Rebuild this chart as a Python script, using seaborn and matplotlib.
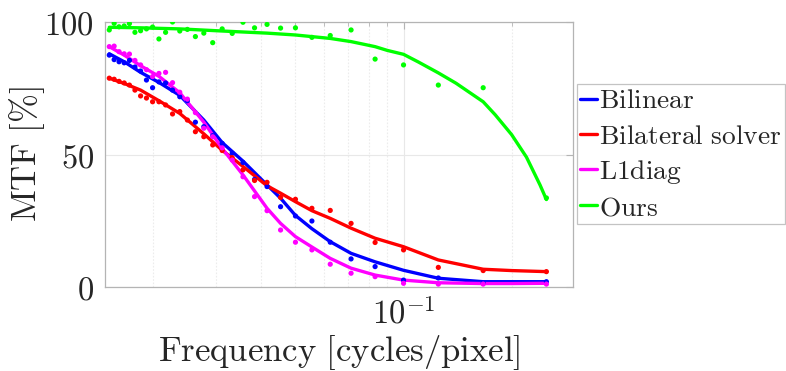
import matplotlib
matplotlib.use("Agg")
import matplotlib.pyplot as plt
import matplotlib.ticker as mticker
import numpy as np
import pandas as pd
import seaborn as sns

# Sampled spatial frequencies [cycles/pixel]
freq = [0.01515, 0.01563, 0.01613, 0.01667, 0.01724, 0.01786, 0.01852, 0.01923,
        0.02, 0.02083, 0.02174, 0.02273, 0.02381, 0.025, 0.02632, 0.02778,
        0.02941, 0.03125, 0.03333, 0.03571, 0.03846, 0.04167, 0.04545, 0.05,
        0.05556, 0.0625, 0.07143, 0.08333, 0.1, 0.125, 0.16667, 0.25]

# Measured MTF [%]
mtf_bilinear = [87.5, 85.8, 85.0, 84.6, 85.5, 83.0, 81.5, 78.1, 75.2, 77.4, 77.0, 74.3,
                71.8, 70.3, 62.2, 60.5, 57.1, 54.2, 50.5, 47.0, 40.6, 37.9, 30.3, 26.8,
                24.9, 16.9, 10.6, 7.7, 2.6, 3.4, 1.5, 2.0]
mtf_bilateral = [78.8, 78.4, 77.6, 77.0, 76.2, 74.3, 72.1, 71.3, 69.9, 69.9, 68.7, 65.3,
                 66.2, 63.0, 58.6, 56.7, 53.6, 51.5, 48.8, 44.2, 40.2, 39.5, 33.8, 33.1,
                 29.7, 28.9, 24.0, 16.8, 14.0, 7.4, 6.2, 5.8]
mtf_l1diag = [90.7, 90.9, 88.8, 88.0, 87.9, 85.5, 83.8, 82.0, 79.4, 80.6, 81.0, 77.1,
              73.5, 70.9, 65.8, 59.9, 56.7, 52.5, 47.9, 41.6, 34.1, 28.8, 21.5, 16.9,
              14.0, 8.6, 5.2, 3.9, 1.4, 1.1, 1.1, 1.1]
mtf_ours = [97.0, 99.5, 98.2, 98.5, 99.4, 96.1, 96.7, 97.4, 98.1, 93.6, 96.1, 100.0,
            96.6, 97.2, 94.5, 95.8, 92.2, 97.4, 95.7, 99.9, 97.8, 99.1, 97.7, 97.8,
            94.2, 94.9, 97.0, 86.0, 83.8, 76.2, 75.2, 33.6]

# Fitted MTF curves
fit_freq = [0.01515, 0.01667, 0.01852, 0.02083, 0.02381, 0.02778, 0.03125, 0.03571,
            0.04167, 0.04545, 0.05, 0.05556, 0.0625, 0.07143, 0.08333, 0.1, 0.125,
            0.16667, 0.2, 0.25]
fit_bilinear = [88.0, 85.0, 81.0, 77.2, 72.3, 63.0, 54.5, 47.5, 38.5, 33.5, 27.0, 22.0,
                17.1, 12.7, 9.5, 6.3, 3.3, 2.0, 2.0, 2.0]
fit_bilateral = [78.8, 76.8, 74.3, 70.3, 65.5, 57.8, 51.6, 45.5, 38.2, 35.4, 32.2, 28.8,
                 25.9, 22.2, 18.4, 15.2, 10.2, 6.7, 6.2, 5.8]
fit_l1diag = [90.7, 87.5, 83.5, 79.5, 73.3, 62.2, 52.3, 42.3, 29.7, 24.0, 19.0, 15.1,
              10.8, 7.1, 4.5, 2.6, 1.6, 1.3, 1.3, 1.4]

# The "Ours" fit is sampled more finely where it bends
fit_freq_ours = [0.01515, 0.01852, 0.02381, 0.03125, 0.04167, 0.05, 0.0625, 0.07143,
                 0.08333, 0.09, 0.1, 0.11, 0.125, 0.14, 0.16667, 0.18, 0.2, 0.22,
                 0.24, 0.25]
fit_ours = [98.0, 97.8, 97.4, 96.6, 95.8, 95.1, 93.8, 92.6, 90.7, 89.3, 87.8, 84.9,
            80.8, 76.9, 69.9, 65.0, 57.5, 49.0, 38.5, 33.0]

methods = ["Bilinear", "Bilateral solver", "L1diag", "Ours"]
colors = ["#0000ff", "#ff0000", "#ff00ff", "#00ff00"]

labels = {m: r"$\mathrm{" + m.replace(" ", r"\ ") + "}$" for m in methods}

points = pd.concat([
    pd.DataFrame({"freq": freq, "mtf": v, "method": labels[m]})
    for m, v in zip(methods, [mtf_bilinear, mtf_bilateral, mtf_l1diag, mtf_ours])
])
fit_sets = [(fit_freq, fit_bilinear), (fit_freq, fit_bilateral),
            (fit_freq, fit_l1diag), (fit_freq_ours, fit_ours)]
fits = pd.concat([
    pd.DataFrame({"freq": f, "mtf": v, "method": labels[m]})
    for m, (f, v) in zip(methods, fit_sets)
])

sns.set_style("white")
plt.rcParams["mathtext.fontset"] = "cm"
plt.rcParams["font.family"] = ["DejaVu Serif"]

text_color = "#262626"
frame_color = "#b4b4b4"

fig = plt.figure(figsize=(7.86, 3.71), dpi=100)
ax = fig.add_axes([105 / 786, 84 / 371, 468 / 786, 265 / 371])

palette = dict(zip([labels[m] for m in methods], colors))

sns.lineplot(data=fits, x="freq", y="mtf", hue="method", palette=palette,
             estimator=None, sort=True, lw=2.4, ax=ax, zorder=3,
             solid_capstyle="round", solid_joinstyle="round")
sns.scatterplot(data=points, x="freq", y="mtf", hue="method", palette=palette,
                s=14, linewidth=0, ax=ax, legend=False, zorder=4)

ax.set_xscale("log")
ax.set_xlim(0.01474, 0.2965)
ax.set_ylim(0, 100)

ax.xaxis.set_major_locator(mticker.FixedLocator([0.1]))
ax.xaxis.set_major_formatter(mticker.FixedFormatter([r"$10^{-1}$"]))
ax.xaxis.set_minor_locator(mticker.LogLocator(base=10, subs=np.arange(2, 10), numticks=20))
ax.xaxis.set_minor_formatter(mticker.NullFormatter())
ax.yaxis.set_major_locator(mticker.FixedLocator([0, 50, 100]))
ax.yaxis.set_major_formatter(mticker.FixedFormatter([r"$0$", r"$50$", r"$100$"]))

ax.grid(True, which="major", color="#e8e8e8", lw=0.8)
ax.grid(True, which="minor", axis="x", color="#ececec", lw=0.8, ls=(0, (1.5, 1.5)))
ax.set_axisbelow(True)

for s in ax.spines.values():
    s.set_color(frame_color)
    s.set_linewidth(0.9)
    s.set_visible(True)

ax.tick_params(which="both", direction="in", top=True, right=True,
               color=frame_color, labelcolor=text_color, labelsize=23.5)
ax.tick_params(which="major", length=5, pad=8)
ax.tick_params(which="minor", length=3)

ax.set_xlabel(r"$\mathrm{Frequency\ [cycles/pixel]}$", fontsize=25,
              color=text_color, labelpad=2)
ax.set_ylabel(r"$\mathrm{MTF\ [\%]}$", fontsize=25, color=text_color)
ax.yaxis.set_label_coords((47 - 105) / 468, 0.5)

leg = ax.legend(loc="upper left", bbox_to_anchor=(577 / 786, 1 - 84 / 371),
                bbox_transform=fig.transFigure, fontsize=19.8, frameon=True,
                fancybox=False, handlelength=0.6, handletextpad=0.08,
                borderpad=0.12, labelspacing=0.3, borderaxespad=0)
leg.get_frame().set_edgecolor(frame_color)
leg.get_frame().set_linewidth(0.9)
for t in leg.get_texts():
    t.set_color(text_color)
for h in leg.get_lines():
    h.set_linewidth(2.4)

fig.savefig("out.png", dpi=100)
